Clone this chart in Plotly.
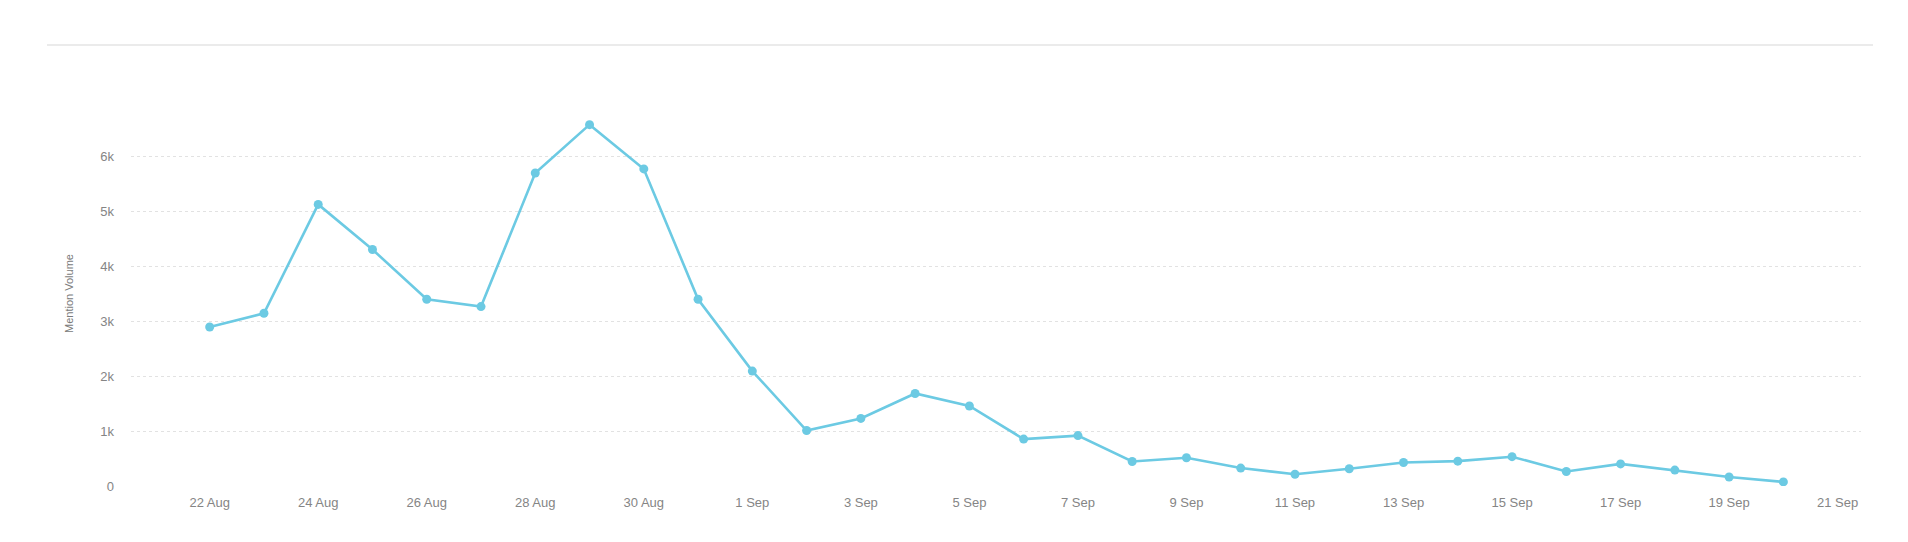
import plotly.graph_objects as go
import pandas as pd

dates = pd.date_range("2024-08-22", "2024-09-20", freq="D")
mentions = [2890, 3140, 5120, 4300, 3395, 3262, 5690, 6570, 5765, 3395,
            2089, 1009, 1229, 1682, 1455, 853, 916, 445, 514, 326,
            214, 313, 427, 452, 533, 264, 402, 289, 163, 75]

y_tickvals = [0, 1000, 2000, 3000, 4000, 5000, 6000]
y_ticktext = ["0", "1k", "2k", "3k", "4k", "5k", "6k"]
x_tickvals = pd.date_range("2024-08-22", "2024-09-21", freq="2D")
x_ticktext = [f"{d.day} {d.strftime('%b')}" for d in x_tickvals]

LINE = "#6ccae3"
W, H = 1908, 542
# page body has an 8px margin, so offsets are compensated
ml, mr, mt, mb = 123, 55, 93, 64

fig = go.Figure()
fig.add_trace(go.Scatter(
    x=dates, y=mentions, mode="lines+markers",
    line=dict(color=LINE, width=2.6),
    marker=dict(color=LINE, size=9),
    showlegend=False,
))

fig.update_layout(
    width=W, height=H,
    margin=dict(l=ml, r=mr, t=mt, b=mb),
    paper_bgcolor="white", plot_bgcolor="white",
    font=dict(family="Liberation Sans, Arial, sans-serif", color="#8a8a8a", size=13),
)
fig.update_xaxes(
    range=[pd.Timestamp("2024-08-20 13:12"), pd.Timestamp("2024-09-21 10:20")],
    tickvals=x_tickvals, ticktext=x_ticktext,
    showgrid=False, zeroline=False, showline=False, ticks="",
    ticklabelstandoff=7,
    tickfont=dict(size=13, color="#858585"),
)
fig.update_yaxes(
    range=[0, 7000],
    tickvals=y_tickvals, ticktext=y_ticktext,
    showgrid=True, gridcolor="#e2e2e2", griddash="dot", gridwidth=1,
    zeroline=False, showline=False, ticks="",
    ticklabelstandoff=16,
    tickfont=dict(size=13, color="#858585"),
    title=dict(text="Mention Volume", font=dict(size=11, color="#7a7a7a"), standoff=24),
    automargin=False,
)
pw = W - ml - mr
ph = H - mt - mb
line_y = 37
fig.add_shape(type="line", xref="paper", yref="paper",
              x0=(39 - ml) / pw, x1=(1865 - ml) / pw,
              y0=(H - mb - line_y) / ph, y1=(H - mb - line_y) / ph,
              line=dict(color="#ebebeb", width=2))

fig.write_html("out.html")
